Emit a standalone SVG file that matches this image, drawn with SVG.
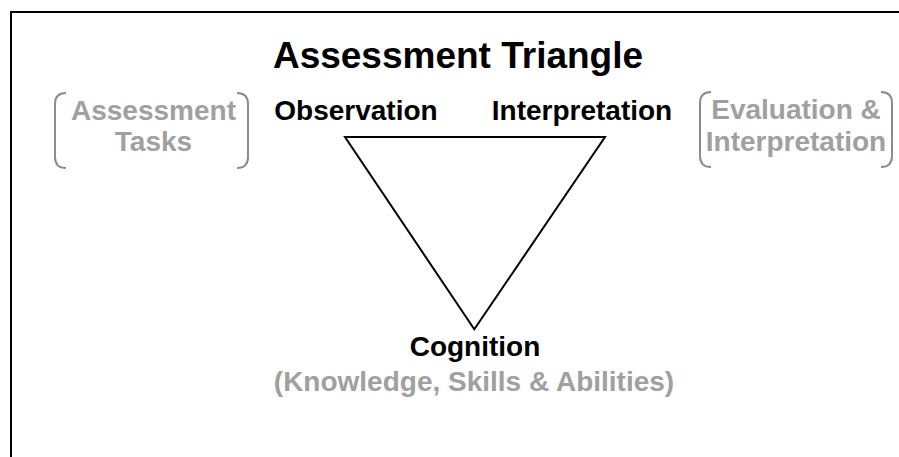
<svg xmlns="http://www.w3.org/2000/svg" width="899" height="457" viewBox="0 0 899 457">
<style>
.t{font-family:"Liberation Sans",Arial,sans-serif;font-weight:bold;text-anchor:middle}
.lbl{font-size:28px;fill:#000}
.g{font-size:28px;fill:#a0a0a0}
.br{fill:none;stroke:#8c8c8c;stroke-width:2}
</style>
<rect x="0" y="0" width="899" height="457" fill="#fff"/>
<rect x="11" y="12" width="920" height="480" fill="none" stroke="#000" stroke-width="2"/>
<text class="t" x="458" y="68" font-size="37">Assessment Triangle</text>
<g id="connectors">
<polygon points="345,137 605,137 474.3,329.3" fill="none" stroke="#000" stroke-width="2" stroke-linejoin="miter"/>
</g>
<g id="observation"><text class="t lbl" x="356" y="120">Observation</text></g>
<g id="interpretation"><text class="t lbl" x="582" y="120">Interpretation</text></g>
<g id="cognition">
<text class="t lbl" x="475" y="356">Cognition</text>
<text class="t g" x="474" y="391">(Knowledge, Skills &amp; Abilities)</text>
</g>
<g id="assessment-tasks">
<path class="br" d="M66,93 Q55,93 55,104 V157 Q55,168 66,168"/>
<path class="br" d="M237,93 Q248,93 248,104 V157 Q248,168 237,168"/>
<text class="t g" x="153.5" y="120">Assessment</text>
<text class="t g" x="153.5" y="151">Tasks</text>
</g>
<g id="evaluation-interpretation">
<path class="br" d="M711,92 Q700,92 700,103 V156 Q700,167 711,167"/>
<path class="br" d="M881,92 Q892,92 892,103 V156 Q892,167 881,167"/>
<text class="t g" x="796" y="119">Evaluation &amp;</text>
<text class="t g" x="796" y="151">Interpretation</text>
</g>
</svg>
